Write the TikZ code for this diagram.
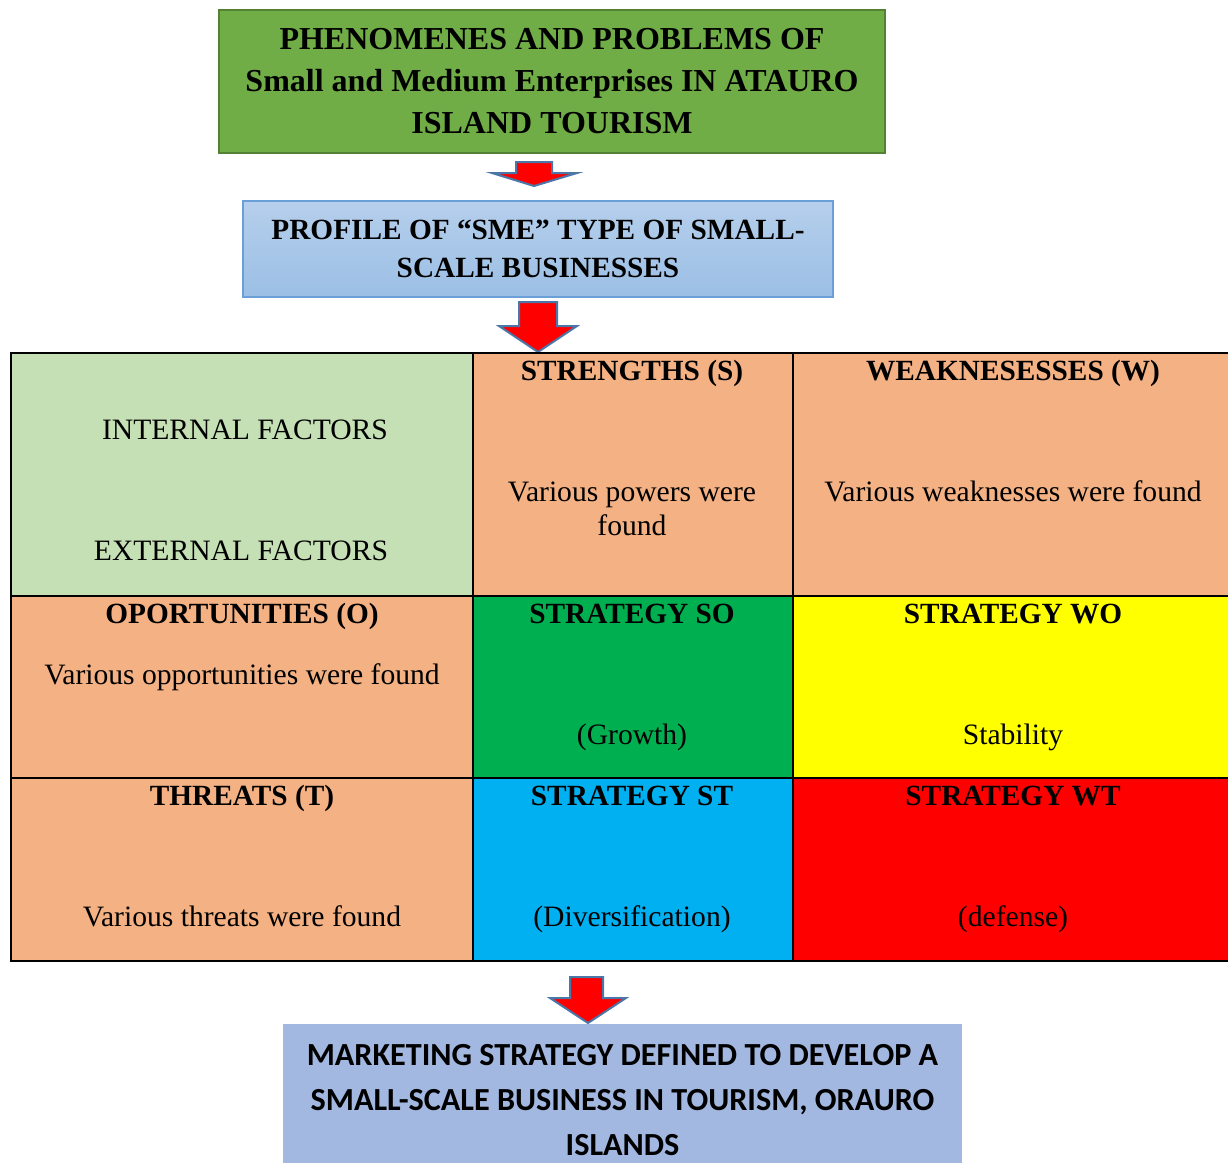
\documentclass[tikz,border=0pt]{standalone}
\usepackage{fontspec}
\setmainfont{Liberation Serif}
\newfontfamily\calibfont{Carlito}
\definecolor{topgreen}{HTML}{70AD47}
\definecolor{topgreenb}{HTML}{548235}
\definecolor{proftop}{HTML}{B6CFEC}
\definecolor{profbot}{HTML}{9BBFE5}
\definecolor{profb}{HTML}{6A9FD8}
\definecolor{salmon}{HTML}{F4B183}
\definecolor{lgreen}{HTML}{C5E0B4}
\definecolor{sgreen}{HTML}{00B050}
\definecolor{syellow}{HTML}{FFFF00}
\definecolor{sblue}{HTML}{00B0F0}
\definecolor{sred}{HTML}{FF0000}
\definecolor{botblue}{HTML}{A3B8E0}
\definecolor{arrowb}{HTML}{4A76A8}
\begin{document}
\begin{tikzpicture}[x=1pt,y=-1pt,
  cell/.style={anchor=north west, inner sep=0pt, outer sep=0pt},
  grid/.style={line width=2.3pt, black},
  head/.style={anchor=base, inner sep=0pt, font=\fontsize{29.3}{34}\selectfont\bfseries},
  body/.style={anchor=base, inner sep=0pt, font=\fontsize{29.6}{34}\selectfont},
  downarrow/.style={fill=sred, draw=arrowb, line width=2pt, line join=miter}
]
\useasboundingbox (0,0) rectangle (1228,1163);

% top box
\node[draw=topgreenb, line width=2pt, fill=topgreen, minimum width=666pt, minimum height=143pt,
  inner sep=0pt, align=center, font=\fontsize{32}{42}\selectfont\bfseries] (top) at (552,81.5)
  {PHENOMENES AND PROBLEMS OF\\Small and Medium Enterprises IN ATAURO\\ISLAND TOURISM};

% arrow 1
\draw[downarrow] (516,162) -- (552,162) -- (552,173) -- (577,173) -- (534,186) -- (492,173) -- (516,173) -- cycle;

% profile box
\node[draw=profb, line width=1.5pt, top color=proftop, bottom color=profbot, minimum width=590pt, minimum height=96pt,
  inner sep=0pt, align=center, font=\fontsize{29.3}{38}\selectfont\bfseries] (profile) at (538,249)
  {PROFILE OF “SME” TYPE OF SMALL-\\SCALE BUSINESSES};

% arrow 2
\draw[downarrow] (519,302) -- (557,302) -- (557,326) -- (577,326) -- (538,352) -- (499,326) -- (519,326) -- cycle;

% table cells
\node[cell, fill=lgreen, minimum width=462pt, minimum height=243pt] (c11) at (11,353) {};
\node[cell, fill=salmon, minimum width=320pt, minimum height=243pt] (c12) at (473,353) {};
\node[cell, fill=salmon, minimum width=435pt, minimum height=243pt] (c13) at (793,353) {};
\node[cell, fill=salmon, minimum width=462pt, minimum height=182pt] (c21) at (11,596) {};
\node[cell, fill=sgreen, minimum width=320pt, minimum height=182pt] (c22) at (473,596) {};
\node[cell, fill=syellow, minimum width=435pt, minimum height=182pt] (c23) at (793,596) {};
\node[cell, fill=salmon, minimum width=462pt, minimum height=183pt] (c31) at (11,778) {};
\node[cell, fill=sblue, minimum width=320pt, minimum height=183pt] (c32) at (473,778) {};
\node[cell, fill=sred, minimum width=435pt, minimum height=183pt] (c33) at (793,778) {};

% grid lines
\draw[grid] (11,353) -- (1228,353);
\draw[grid] (11,596) -- (1228,596);
\draw[grid] (11,778) -- (1228,778);
\draw[grid] (11,961) -- (1228,961);
\draw[grid] (11,351.85) -- (11,962.15);
\draw[grid] (473,353) -- (473,961);
\draw[grid] (793,353) -- (793,961);

% row 1 texts
\node[body] (int) at (245,439.5) {INTERNAL FACTORS};
\node[body] (ext) at (241,560.5) {EXTERNAL FACTORS};
\node[head] (str) at (632,380.5) {STRENGTHS (S)};
\node[body] (str1) at (632,501) {Various powers were};
\node[body] (str2) at (632,535) {found};
\node[head] (wea) at (1013,380.5) {WEAKNESESSES (W)};
\node[body] (wea1) at (1013,501) {Various weaknesses were found};

% row 2 texts
\node[head] (opp) at (242,623.5) {OPORTUNITIES (O)};
\node[body] (opp1) at (242,684) {Various opportunities were found};
\node[head] (so) at (632,623.5) {STRATEGY SO};
\node[body] (so1) at (632,744) {(Growth)};
\node[head] (wo) at (1013,623.5) {STRATEGY WO};
\node[body] (wo1) at (1013,744) {Stability};

% row 3 texts
\node[head] (thr) at (242,805.5) {THREATS (T)};
\node[body] (thr1) at (242,926) {Various threats were found};
\node[head] (st) at (632,805.5) {STRATEGY ST};
\node[body] (st1) at (632,926) {(Diversification)};
\node[head] (wt) at (1013,805.5) {STRATEGY WT};
\node[body] (wt1) at (1013,926) {(defense)};

% bottom box
\node[cell, fill=botblue, minimum width=679pt, minimum height=139pt] (bot) at (283,1024) {};
\node[inner sep=0pt, align=center, font=\calibfont\fontsize{32.2}{45}\selectfont\bfseries] (bottxt) at (622.5,1100)
  {MARKETING STRATEGY DEFINED TO DEVELOP A\\SMALL-SCALE BUSINESS IN TOURISM, ORAURO\\ISLANDS};

% arrow 3
\draw[downarrow] (570,977) -- (603,977) -- (603,998) -- (626,998) -- (588,1023) -- (550,998) -- (570,998) -- cycle;
\end{tikzpicture}
\end{document}
